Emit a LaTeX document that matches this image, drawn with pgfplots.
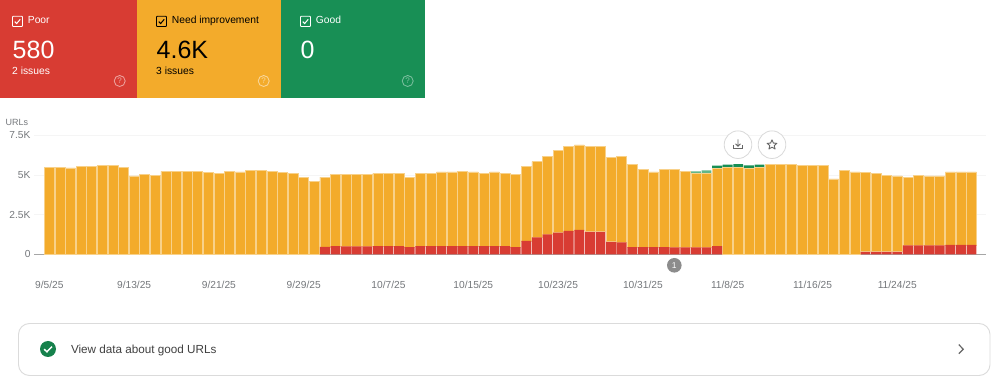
\documentclass[border=0pt]{standalone}
\usepackage{pgfplots}
\usepackage{pgfplotstable}
\pgfplotsset{compat=1.18}
\usepackage{fontspec}
\setmainfont{Liberation Sans}
\definecolor{cred}{HTML}{D83C33}
\definecolor{cora}{HTML}{F3AB2B}
\definecolor{cgrn}{HTML}{188F55}
\definecolor{cpale}{HTML}{62B688}
\definecolor{txt}{HTML}{75787C}
\pgfplotstableread{
i r o p g
1 0 5480 0 0
2 0 5480 0 0
3 0 5440 0 0
4 0 5520 0 0
5 0 5520 0 0
6 0 5590 0 0
7 0 5610 0 0
8 0 5480 0 0
9 0 4940 0 0
10 0 5020 0 0
11 0 4980 0 0
12 0 5230 0 0
13 0 5230 0 0
14 0 5230 0 0
15 0 5230 0 0
16 0 5150 0 0
17 0 5100 0 0
18 0 5230 0 0
19 0 5190 0 0
20 0 5270 0 0
21 0 5290 0 0
22 0 5230 0 0
23 0 5150 0 0
24 0 5100 0 0
25 0 4870 0 0
26 0 4600 0 0
27 470 4400 0 0
28 510 4530 0 0
29 500 4540 0 0
30 500 4540 0 0
31 500 4540 0 0
32 510 4610 0 0
33 510 4610 0 0
34 510 4610 0 0
35 450 4420 0 0
36 510 4610 0 0
37 510 4610 0 0
38 510 4680 0 0
39 510 4680 0 0
40 510 4720 0 0
41 510 4680 0 0
42 510 4610 0 0
43 510 4680 0 0
44 510 4610 0 0
45 450 4590 0 0
46 850 4670 0 0
47 1060 4780 0 0
48 1250 4920 0 0
49 1360 5170 0 0
50 1480 5300 0 0
51 1540 5350 0 0
52 1420 5360 0 0
53 1420 5380 0 0
54 790 5320 0 0
55 750 5420 0 0
56 450 5220 0 0
57 450 4880 0 0
58 450 4740 0 0
59 450 4880 0 0
60 440 4890 0 0
61 440 4790 0 0
62 440 4640 150 0
63 440 4660 190 0
64 510 4910 0 170
65 0 5460 0 190
66 0 5500 0 190
67 0 5420 0 190
68 0 5460 0 190
69 0 5690 0 0
70 0 5690 0 0
71 0 5690 0 0
72 0 5610 0 0
73 0 5610 0 0
74 0 5610 0 0
75 0 4750 0 0
76 0 5290 0 0
77 0 5190 0 0
78 160 4990 0 0
79 160 4940 0 0
80 160 4820 0 0
81 160 4780 0 0
82 560 4310 0 0
83 560 4420 0 0
84 560 4380 0 0
85 560 4380 0 0
86 590 4600 0 0
87 590 4600 0 0
88 590 4600 0 0
}\datatable
\begin{document}
\begin{tikzpicture}
\path[use as bounding box,fill=white] (0pt,0pt) rectangle (995pt,382pt);
\begin{axis}[
  at={(34pt,127.7pt)},anchor=south west,
  scale only axis,width=952pt,height=119pt,
  xmin=-0.443,xmax=89.37,ymin=0,ymax=7500,
  ybar stacked,bar width=9.9pt,
  axis x line*=bottom,axis y line*=left,
  y axis line style={draw=none},
  x axis line style={-,draw=black!35,line width=0.8pt},
  major tick length=0pt,
  ytick={0,2500,5000,7500},yticklabels={0,2.5K,5K,7.5K},
  xtick={1,9,17,25,33,41,49,57,65,73,81},
  xticklabels={9/5/25,9/13/25,9/21/25,9/29/25,10/7/25,10/15/25,10/23/25,10/31/25,11/8/25,11/16/25,11/24/25},
  ymajorgrids,grid style={draw=black!4,line width=0.8pt},
  tick label style={text=txt,font=\fontsize{10.2}{12}\selectfont},
  xtick pos=bottom,
  x tick label style={yshift=-23pt},
  clip=false,
]
\addplot+[fill=cred,draw=none] table[x=i,y=r] {\datatable};
\addplot+[fill=cora,draw=cora!55!white,line width=0.55pt] table[x=i,y=o] {\datatable};
\addplot+[fill=cpale,draw=none] table[x=i,y=p] {\datatable};
\addplot+[fill=cgrn,draw=none] table[x=i,y=g] {\datatable};
\end{axis}
\begin{scope}[x=1pt,y=-1pt,yshift=382pt]
% summary cards
\fill[cred] (0,0) rectangle (137,98);
\fill[cora] (137,0) rectangle (281,98);
\fill[cgrn] (281,0) rectangle (425,98);
\newcommand{\card}[6]{% x, textcolor, label, number, issues, helpopacity
  \draw[#2,line width=0.9pt,rounded corners=0.8pt] (#1+12.5,16.3) rectangle (#1+22.5,26.5);
  \draw[#2,line width=1pt] (#1+14.7,21.6) -- (#1+16.6,23.6) -- (#1+20.2,19.4);
  \node[anchor=base west,inner sep=0,text=#2,font=\fontsize{10.3}{12}\selectfont] at (#1+27.7,24) {#3};
  \node[anchor=base west,inner sep=0,text=#2,font=\fontsize{25}{30}\selectfont] at (#1+12.5,58.2) {#4};
  \node[anchor=base west,inner sep=0,text=#2,font=\fontsize{10.3}{12}\selectfont] at (#1+12,75) {#5};
  \draw[white,opacity=#6,line width=0.8pt] (#1+119.7,81) circle (5.5);
  \node[text=white,opacity=#6,inner sep=0,font=\fontsize{8}{10}\selectfont] at (#1+119.7,81) {?};
}
\card{0}{white}{Poor}{580}{2 issues}{0.55}
\card{144}{black}{Need improvement}{4.6K}{3 issues}{0.55}
\card{288}{white}{Good}{0}{}{0.45}
\node[anchor=base west,inner sep=0,text=txt,font=\fontsize{9}{11}\selectfont] at (5.5,125.7) {URLs};
% annotation marker
\fill[black!45] (674.3,265.3) circle (7.3);
\node[text=white,inner sep=0,font=\fontsize{8.5}{10}\selectfont] at (674.3,265.3) {1};
% buttons
\draw[black!15,fill=white,line width=0.8pt] (738,144.7) circle (13.8);
\draw[black!15,fill=white,line width=0.8pt] (772,144.7) circle (13.8);
\draw[black!60,line width=0.9pt] (733.5,145) -- (733.5,148.5) -- (742.5,148.5) -- (742.5,145);
\draw[black!60,line width=0.9pt] (738,139.5) -- (738,146) (735.5,143.8) -- (738,146.2) -- (740.5,143.8);
\draw[black!60,line width=0.9pt,line join=round] (772,139.8) -- (773.4,143.1) -- (776.9,143.3) -- (774.2,145.6) -- (775.1,149) -- (772,147.2) -- (768.9,149) -- (769.8,145.6) -- (767.1,143.3) -- (770.6,143.1) -- cycle;
% bottom card
\draw[black!14,line width=0.9pt,rounded corners=11pt] (18.5,323.5) rectangle (990,375.5);
\fill[black!10!cgrn] (48,349) circle (8);
\draw[white,line width=1.5pt] (44.2,349.2) -- (46.9,351.8) -- (52,346.6);
\node[anchor=base west,inner sep=0,text=black!75,font=\fontsize{11.7}{14}\selectfont] at (70.8,353.2) {View data about good URLs};
\draw[black!60,line width=1.2pt] (958.8,344.6) -- (963.2,349.2) -- (958.8,353.8);
\end{scope}
\end{tikzpicture}
\end{document}
